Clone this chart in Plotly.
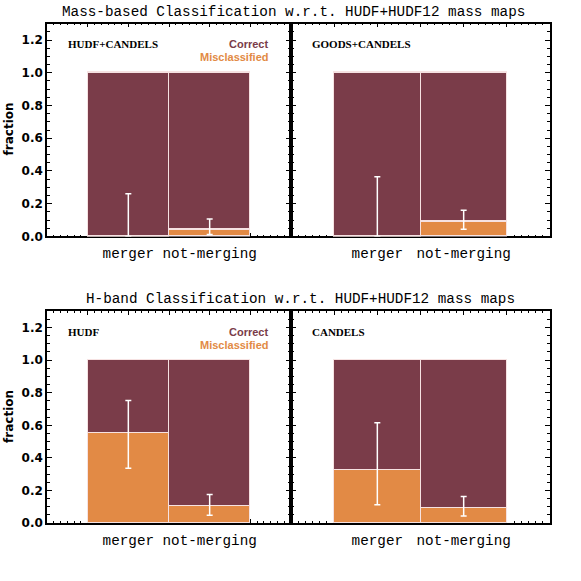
import plotly.graph_objects as go

# ---------------- data ----------------
categories = ["merger", "not-merging"]
panel_names = ["HUDF+CANDELS", "GOODS+CANDELS", "HUDF", "CANDELS"]
row_titles = ["Mass-based Classification w.r.t. HUDF+HUDF12 mass maps",
              "H-band Classification w.r.t. HUDF+HUDF12 mass maps"]

misclassified = {
    "HUDF+CANDELS": [0.0, 0.042],
    "GOODS+CANDELS": [0.0, 0.089],
    "HUDF": [0.55, 0.101],
    "CANDELS": [0.326, 0.089],
}
err_plus = {
    "HUDF+CANDELS": [0.26, 0.065],
    "GOODS+CANDELS": [0.364, 0.071],
    "HUDF": [0.202, 0.075],
    "CANDELS": [0.289, 0.075],
}
err_minus = {
    "HUDF+CANDELS": [0.0, 0.030],
    "GOODS+CANDELS": [0.0, 0.045],
    "HUDF": [0.213, 0.052],
    "CANDELS": [0.213, 0.045],
}
y_ticks = [0.0, 0.2, 0.4, 0.6, 0.8, 1.0, 1.2]

# ---------------- style ----------------
W = H = 581
MAROON = "#7a3c49"
ORANGE = "#e28a45"
EDGE = "#f6e2e2"
MONO = "Liberation Mono"

def px(x):
    return x / W

def py(y):
    return 1 - y / H

xdomains = [[px(47), px(291)], [px(291), px(550)]]
ydomains = [[py(239.3), py(24)], [py(529.5), py(315)]]

fig = go.Figure()
xpos = [i + 1 for i in range(len(categories))]

for k, name in enumerate(panel_names):
    row, col = divmod(k, 2)
    n = k + 1
    xa = "x" if n == 1 else f"x{n}"
    ya = "y" if n == 1 else f"y{n}"
    mis = misclassified[name]
    cor = [1 - v for v in mis]
    fig.add_trace(go.Bar(x=xpos, y=mis, xaxis=xa, yaxis=ya, width=1,
                         marker=dict(color=ORANGE, line=dict(color=EDGE, width=1.5)),
                         showlegend=False, hoverinfo="skip"))
    fig.add_trace(go.Bar(x=xpos, y=cor, xaxis=xa, yaxis=ya, width=1,
                         marker=dict(color=MAROON, line=dict(color=EDGE, width=1.5)),
                         showlegend=False, hoverinfo="skip"))
    fig.add_trace(go.Scatter(x=xpos, y=mis, xaxis=xa, yaxis=ya, mode="markers",
                             marker=dict(size=1, opacity=0),
                             error_y=dict(type="data", symmetric=False,
                                          array=err_plus[name], arrayminus=err_minus[name],
                                          color="white", thickness=1.5, width=3),
                             showlegend=False, hoverinfo="skip"))

    xtv = [i * 0.5 for i in range(7)]
    xtt = [""] * 7
    for i, c in enumerate(categories):
        xtt[2 * (i + 1)] = c
    xkey = "xaxis" if n == 1 else f"xaxis{n}"
    ykey = "yaxis" if n == 1 else f"yaxis{n}"
    fig.layout[xkey] = dict(
        domain=xdomains[col], anchor=ya, range=[0, 3], fixedrange=True,
        showgrid=False, zeroline=False, showline=True, linecolor="black", linewidth=1.5,
        mirror="ticks", ticks="inside", ticklen=4, tickwidth=1.2, tickcolor="black",
        tickvals=xtv, ticktext=xtt, ticklabelstandoff=3,
        tickfont=dict(family=MONO, size=14.3, color="black"),
        minor=dict(dtick=0.5 / 6, tick0=0, ticks="inside", ticklen=2, tickcolor="black", tickwidth=1),
        layer="below traces",
    )
    fig.layout[ykey] = dict(
        domain=ydomains[row], anchor=xa, range=[0, 1.3], fixedrange=True,
        showgrid=False, zeroline=False, showline=True, linecolor="black", linewidth=1.5,
        mirror="ticks", ticks="inside", ticklen=5, tickwidth=1.2, tickcolor="black",
        tickvals=y_ticks, tickformat=".1f", showticklabels=(col == 0),
        tickfont=dict(family="DejaVu Sans", size=12, color="black", weight="bold"),
        minor=dict(dtick=0.05, ticks="inside", ticklen=3, tickcolor="black", tickwidth=1),
        layer="below traces",
    )

annotations = []
title_y = [12.5, 303]
title_x = [293, 300.5]
for r in range(2):
    annotations.append(dict(text=row_titles[r], x=px(title_x[r]), y=py(title_y[r]),
                            xref="paper", yref="paper", showarrow=False,
                            xanchor="center", yanchor="middle",
                            font=dict(family=MONO, size=14.3, color="black")))
    annotations.append(dict(text="fraction", x=px(9), y=py(131 + 291 * r),
                            xref="paper", yref="paper", showarrow=False, textangle=-90,
                            xanchor="center", yanchor="middle",
                            font=dict(family="DejaVu Sans", size=12, color="black", weight="bold")))
    annotations.append(dict(text="Correct", x=px(270), y=py(45 + 290.7 * r),
                            xref="paper", yref="paper", showarrow=False,
                            xanchor="right", yanchor="middle",
                            font=dict(family="Liberation Sans", size=11, color=MAROON, weight="bold")))
    annotations.append(dict(text="Misclassified", x=px(270), y=py(58 + 291 * r),
                            xref="paper", yref="paper", showarrow=False,
                            xanchor="right", yanchor="middle",
                            font=dict(family="Liberation Sans", size=11, color=ORANGE, weight="bold")))

label_xy = [(66, 45), (310, 45), (66, 336), (310, 336)]
for name, (lx, ly) in zip(panel_names, label_xy):
    annotations.append(dict(text=name, x=px(lx), y=py(ly), xref="paper", yref="paper",
                            showarrow=False, xanchor="left", yanchor="middle",
                            font=dict(family="Liberation Serif", size=11, color="black", weight="bold")))

fig.update_layout(
    width=W, height=H, margin=dict(l=0, r=0, t=0, b=0),
    paper_bgcolor="white", plot_bgcolor="white",
    barmode="stack", bargap=0, showlegend=False,
    annotations=annotations,
)

fig.write_html("out.html", config={"displayModeBar": False},
               post_script="document.body.style.margin='0';document.body.style.padding='0';")
